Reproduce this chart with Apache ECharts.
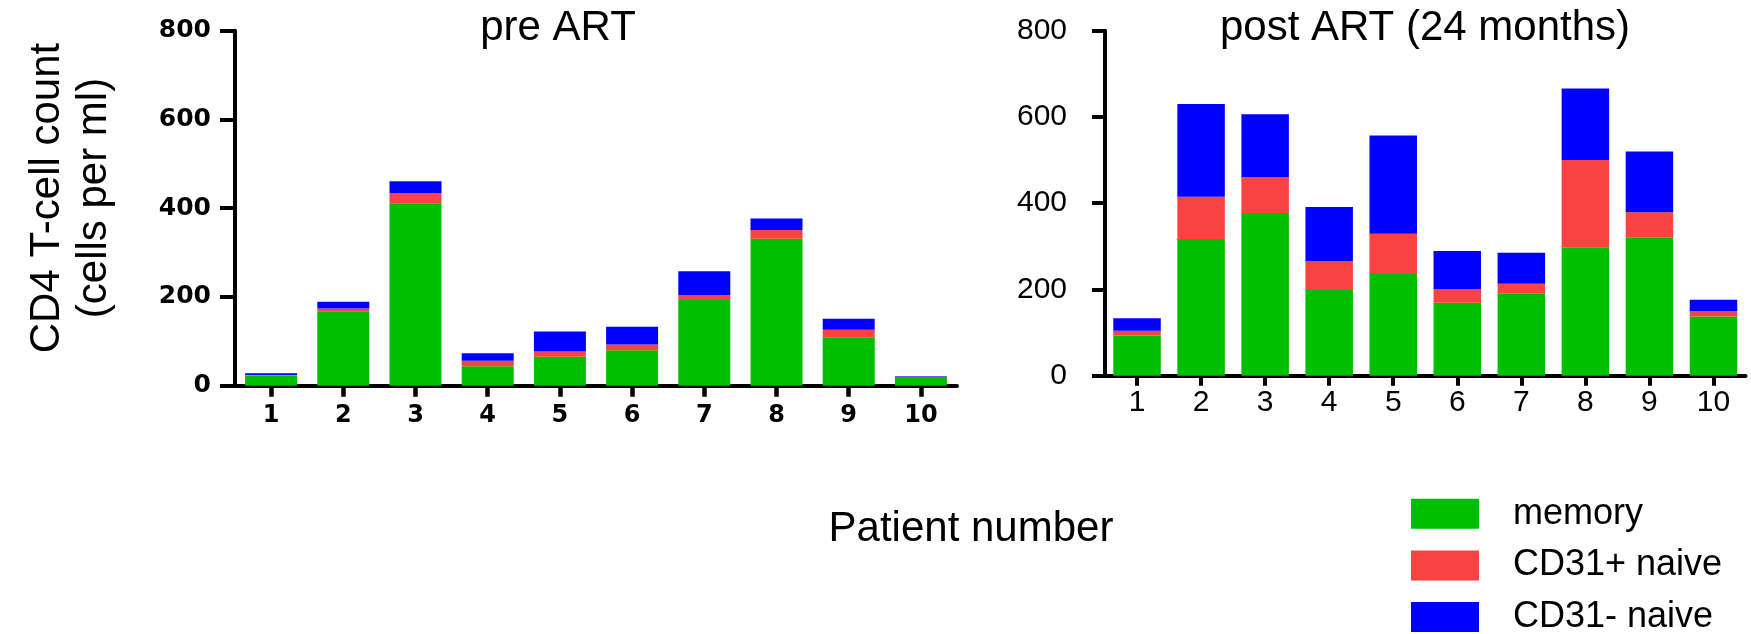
<!DOCTYPE html>
<html>
<head>
<meta charset="utf-8">
<title>CD4 T-cell count pre and post ART</title>
<script src="https://cdn.jsdelivr.net/npm/echarts@6/dist/echarts.min.js"></script>
<style>
  html, body { margin: 0; padding: 0; background: #ffffff; }
  #chart { width: 1751px; height: 634px; }
</style>
</head>
<body>
<div id="chart"></div>
<script>
// Patient numbers on the x axis
const categories = ['1', '2', '3', '4', '5', '6', '7', '8', '9', '10'];

// Counts before ART (cells per ml)
const preMemory   = [23, 168, 411, 44, 65, 80, 193, 331, 109, 20];
const preCD31pos  = [1, 6, 23, 12, 12, 13, 11, 20, 17, 1];
const preCD31neg  = [4, 15, 27, 17, 45, 40, 54, 26, 25, 1];

// Counts after 24 months of ART (cells per ml)
const postMemory  = [93, 317, 377, 199, 236, 169, 191, 298, 321, 137];
const postCD31pos = [11, 98, 83, 67, 93, 32, 22, 202, 58, 13];
const postCD31neg = [29, 215, 146, 125, 228, 88, 72, 166, 141, 26];

const yTicks = { min: 0, max: 800, interval: 200 };
const seriesNames = ['memory', 'CD31+ naive', 'CD31- naive'];
const colors = ['#00BE00', '#F94343', '#0000FF'];

const FONT = '"Liberation Sans", Arial, Helvetica, sans-serif';
const BOLD_FONT = '"DejaVu Sans", "Liberation Sans", Arial, sans-serif';

const chart = echarts.init(document.getElementById('chart'), null, { renderer: 'canvas' });

function axisLineStyle() {
  return { show: true, lineStyle: { color: '#000', width: 4 } };
}

const option = {
  animation: false,
  backgroundColor: '#ffffff',
  color: colors,
  grid: [
    { left: 235, top: 30.7, width: 722, height: 355 },
    { left: 1105, top: 30.7, width: 640.5, height: 345 }
  ],
  legend: {
    orient: 'vertical',
    left: 1411,
    top: 495.7,
    padding: 0,
    height: 220,
    itemWidth: 68,
    itemHeight: 30,
    itemGap: 15.7,
    icon: 'rect',
    data: seriesNames,
    selectedMode: false,
    textStyle: {
      fontFamily: FONT,
      fontSize: 36,
      color: '#000',
      padding: [0, 0, 0, 29]
    }
  },
  xAxis: [
    {
      type: 'category',
      gridIndex: 0,
      data: categories,
      axisLine: axisLineStyle(),
      axisTick: { show: true, alignWithLabel: true, length: 11, lineStyle: { color: '#000', width: 4.5 } },
      axisLabel: { fontFamily: BOLD_FONT, fontSize: 24, fontWeight: 'bold', color: '#000', margin: 18 }
    },
    {
      type: 'category',
      gridIndex: 1,
      data: categories,
      axisLine: axisLineStyle(),
      axisTick: { show: true, alignWithLabel: true, length: 10, lineStyle: { color: '#000', width: 4 } },
      axisLabel: { fontFamily: FONT, fontSize: 30, color: '#000', margin: 12 }
    }
  ],
  yAxis: [
    {
      type: 'value',
      gridIndex: 0,
      min: yTicks.min, max: yTicks.max, interval: yTicks.interval,
      splitLine: { show: false },
      axisLine: axisLineStyle(),
      axisTick: { show: true, length: 15, lineStyle: { color: '#000', width: 4 } },
      axisLabel: { fontFamily: BOLD_FONT, fontSize: 25, fontWeight: 'bold', color: '#000', margin: 24 }
    },
    {
      type: 'value',
      gridIndex: 1,
      min: yTicks.min, max: yTicks.max, interval: yTicks.interval,
      splitLine: { show: false },
      axisLine: axisLineStyle(),
      axisTick: { show: true, length: 13, lineStyle: { color: '#000', width: 4 } },
      axisLabel: { fontFamily: FONT, fontSize: 30, color: '#000', margin: 38 }
    }
  ],
  series: [
    { name: seriesNames[0], type: 'bar', stack: 'pre', xAxisIndex: 0, yAxisIndex: 0, barWidth: 52, data: preMemory },
    { name: seriesNames[1], type: 'bar', stack: 'pre', xAxisIndex: 0, yAxisIndex: 0, barWidth: 52, data: preCD31pos },
    { name: seriesNames[2], type: 'bar', stack: 'pre', xAxisIndex: 0, yAxisIndex: 0, barWidth: 52, data: preCD31neg },
    { name: seriesNames[0], type: 'bar', stack: 'post', xAxisIndex: 1, yAxisIndex: 1, barWidth: 47.5, data: postMemory },
    { name: seriesNames[1], type: 'bar', stack: 'post', xAxisIndex: 1, yAxisIndex: 1, barWidth: 47.5, data: postCD31pos },
    { name: seriesNames[2], type: 'bar', stack: 'post', xAxisIndex: 1, yAxisIndex: 1, barWidth: 47.5, data: postCD31neg }
  ],
  graphic: [
    {
      type: 'text', x: 558, y: 28,
      style: { text: 'pre ART', fontFamily: FONT, fontSize: 42, fill: '#000', align: 'center', verticalAlign: 'middle' }
    },
    {
      type: 'text', x: 1425, y: 28,
      style: { text: 'post ART (24 months)', fontFamily: FONT, fontSize: 42, fill: '#000', align: 'center', verticalAlign: 'middle' }
    },
    {
      type: 'text', x: 71, y: 198, rotation: Math.PI / 2,
      style: {
        text: 'CD4 T-cell count\n(cells per ml)', fontFamily: FONT, fontSize: 42, lineHeight: 47,
        fill: '#000', align: 'center', verticalAlign: 'middle'
      }
    },
    {
      type: 'text', x: 971, y: 529,
      style: { text: 'Patient number', fontFamily: FONT, fontSize: 42, fill: '#000', align: 'center', verticalAlign: 'middle' }
    }
  ]
};

chart.setOption(option);
</script>
</body>
</html>
